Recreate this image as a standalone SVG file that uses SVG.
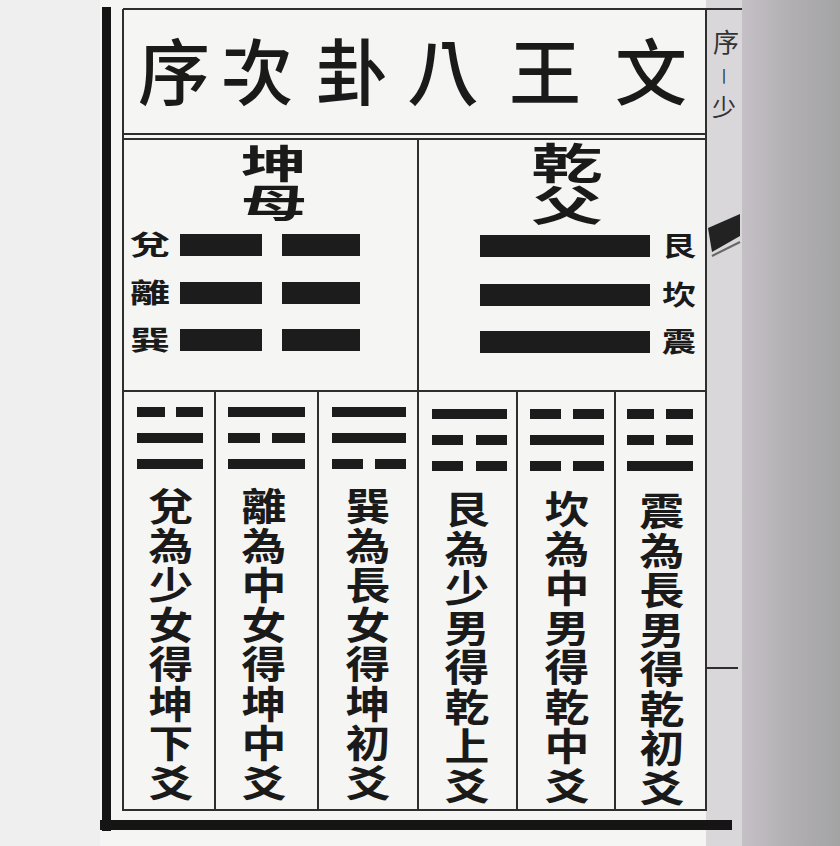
<svg xmlns="http://www.w3.org/2000/svg" width="840" height="846" viewBox="0 0 840 846">
<defs>
<linearGradient id="gut" x1="0" y1="0" x2="1" y2="0">
<stop offset="0" stop-color="#c4c0c5"/>
<stop offset="0.5" stop-color="#b2afb3"/>
<stop offset="1" stop-color="#a3a3a4"/>
</linearGradient>
<style>
.fr{stroke:#2e2e2e;stroke-width:2;fill:none}
.thk{fill:#151515}
.ln{fill:#1c1c1c}
.t{font-family:"Noto Sans CJK TC","Noto Sans CJK SC",sans-serif;fill:#1a1a1a;text-anchor:middle}
.tt{font-size:72px;font-weight:500}
.v{font-family:"Noto Sans CJK TC","Noto Sans CJK SC",sans-serif;fill:#1a1a1a;font-weight:700;writing-mode:vertical-rl;text-orientation:upright;text-anchor:start}
.col{font-size:38px;letter-spacing:1.5px}
.lab{font-size:27px;font-weight:700}
.mg{font-family:"Noto Sans CJK TC",sans-serif;fill:#333;text-anchor:middle}
</style>
</defs>
<rect x="0" y="0" width="840" height="846" fill="#efefef"/>
<rect x="100" y="0" width="610" height="846" fill="#f5f5f3"/>
<rect x="706" y="0" width="40" height="846" fill="#d9d7da"/>
<rect x="742" y="0" width="98" height="846" fill="url(#gut)"/>

<g id="frame">
<rect class="thk" x="102" y="7" width="9" height="824"/>
<rect class="thk" x="100" y="820" width="632" height="10"/>
<line class="fr" x1="123" y1="9" x2="742" y2="9"/>
<line class="fr" x1="123" y1="9" x2="123" y2="811"/>
<line class="fr" x1="706" y1="9" x2="706" y2="811"/>
<line class="fr" x1="123" y1="134" x2="706" y2="134"/>
<line class="fr" x1="123" y1="139" x2="706" y2="139"/>
<line class="fr" x1="418" y1="139" x2="418" y2="392"/>
<line class="fr" x1="123" y1="391" x2="706" y2="391"/>
<line class="fr" x1="123" y1="810" x2="706" y2="810"/>
<line class="fr" x1="215" y1="391" x2="215" y2="810"/>
<line class="fr" x1="318" y1="391" x2="318" y2="810"/>
<line class="fr" x1="418" y1="391" x2="418" y2="810"/>
<line class="fr" x1="517" y1="391" x2="517" y2="810"/>
<line class="fr" x1="615" y1="391" x2="615" y2="810"/>
<line class="fr" x1="706" y1="668" x2="738" y2="668"/>
<polygon points="708,228 740,214 740,236 712,252" fill="#222"/>
<line x1="712" y1="256" x2="740" y2="242" stroke="#666" stroke-width="2"/>
</g>

<g id="margin">
<text class="mg" x="726" y="52" font-size="26">序</text>
<text class="mg" x="724" y="82" font-size="16">丨</text>
<text class="mg" x="724" y="116" font-size="24">少</text>
</g>

<g id="title">
<text class="t tt" x="174" y="99">序</text>
<text class="t tt" x="257" y="99">次</text>
<text class="t tt" x="352" y="99">卦</text>
<text class="t tt" x="443" y="99">八</text>
<text class="t tt" x="545" y="99">王</text>
<text class="t tt" x="651" y="99">文</text>
</g>

<g id="kun-mother">
<g transform="translate(274 0) scale(1.7 1)"><text class="v" x="0" y="144" font-size="39">坤母</text></g>
<rect class="ln" x="180" y="234" width="82" height="22"/>
<rect class="ln" x="282" y="234" width="78" height="22"/>
<rect class="ln" x="180" y="282" width="82" height="22"/>
<rect class="ln" x="282" y="282" width="78" height="22"/>
<rect class="ln" x="180" y="329" width="82" height="22"/>
<rect class="ln" x="282" y="329" width="78" height="22"/>
<text class="t lab" x="150" y="255" textLength="40" lengthAdjust="spacingAndGlyphs">兌</text>
<text class="t lab" x="150" y="303" textLength="40" lengthAdjust="spacingAndGlyphs">離</text>
<text class="t lab" x="150" y="350" textLength="40" lengthAdjust="spacingAndGlyphs">巽</text>
</g>

<g id="qian-father">
<g transform="translate(567 0) scale(1.7 1)"><text class="v" x="0" y="142" font-size="42">乾父</text></g>
<rect class="ln" x="480" y="235" width="170" height="22"/>
<rect class="ln" x="480" y="284" width="170" height="22"/>
<rect class="ln" x="480" y="331" width="170" height="22"/>
<text class="t lab" x="679" y="256" textLength="34" lengthAdjust="spacingAndGlyphs">艮</text>
<text class="t lab" x="679" y="305" textLength="34" lengthAdjust="spacingAndGlyphs">坎</text>
<text class="t lab" x="679" y="352" textLength="34" lengthAdjust="spacingAndGlyphs">震</text>
</g>

<g id="dui">
<rect class="ln" x="137" y="407" width="28" height="10"/><rect class="ln" x="176" y="407" width="27" height="10"/>
<rect class="ln" x="137" y="433" width="66" height="10"/>
<rect class="ln" x="137" y="459" width="66" height="10"/>
<g transform="translate(171 0) scale(1.18 1)"><text class="v col" x="0" y="487">兌為少女得坤下爻</text></g>
</g>

<g id="li">
<rect class="ln" x="228" y="407" width="77" height="10"/>
<rect class="ln" x="228" y="433" width="32" height="10"/><rect class="ln" x="272" y="433" width="33" height="10"/>
<rect class="ln" x="228" y="459" width="77" height="10"/>
<g transform="translate(264 0) scale(1.18 1)"><text class="v col" x="0" y="487">離為中女得坤中爻</text></g>
</g>

<g id="xun">
<rect class="ln" x="332" y="407" width="74" height="10"/>
<rect class="ln" x="332" y="433" width="74" height="10"/>
<rect class="ln" x="332" y="459" width="31" height="10"/><rect class="ln" x="375" y="459" width="31" height="10"/>
<g transform="translate(368 0) scale(1.18 1)"><text class="v col" x="0" y="487">巽為長女得坤初爻</text></g>
</g>

<g id="gen">
<rect class="ln" x="432" y="409" width="75" height="10"/>
<rect class="ln" x="432" y="435" width="31" height="10"/><rect class="ln" x="476" y="435" width="31" height="10"/>
<rect class="ln" x="432" y="461" width="31" height="10"/><rect class="ln" x="476" y="461" width="31" height="10"/>
<g transform="translate(467 0) scale(1.18 1)"><text class="v col" x="0" y="490">艮為少男得乾上爻</text></g>
</g>

<g id="kan">
<rect class="ln" x="530" y="409" width="31" height="10"/><rect class="ln" x="573" y="409" width="31" height="10"/>
<rect class="ln" x="530" y="435" width="74" height="10"/>
<rect class="ln" x="530" y="461" width="31" height="10"/><rect class="ln" x="573" y="461" width="31" height="10"/>
<g transform="translate(567 0) scale(1.18 1)"><text class="v col" x="0" y="490">坎為中男得乾中爻</text></g>
</g>

<g id="zhen">
<rect class="ln" x="627" y="409" width="27" height="10"/><rect class="ln" x="666" y="409" width="27" height="10"/>
<rect class="ln" x="627" y="435" width="27" height="10"/><rect class="ln" x="666" y="435" width="27" height="10"/>
<rect class="ln" x="627" y="461" width="66" height="10"/>
<g transform="translate(662 0) scale(1.18 1)"><text class="v col" x="0" y="492">震為長男得乾初爻</text></g>
</g>
</svg>
